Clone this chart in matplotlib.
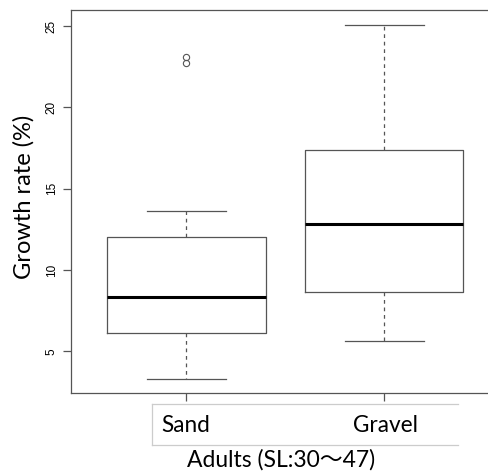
import matplotlib.pyplot as plt
from matplotlib.lines import Line2D

groups = ['Sand', 'Gravel']
q1 = [6.11, 8.63]
median = [8.36, 12.84]
q3 = [12.04, 17.37]
whisker_low = [3.28, 5.65]
whisker_high = [13.62, 25.06]
outliers = [[23.12, 22.75], []]
yticks = [5, 10, 15, 20, 25]

xlabel = 'Adults (SL:30〜47)'
ylabel = 'Growth rate (%)'

stats = []
for i in range(len(groups)):
    stats.append({'med': median[i], 'q1': q1[i], 'q3': q3[i],
                  'whislo': whisker_low[i], 'whishi': whisker_high[i],
                  'fliers': outliers[i], 'label': groups[i]})

fig = plt.figure(figsize=(4.89, 4.72), dpi=100)
W, H = 489, 472
# axes right edge lies outside the figure (image was cropped)
ax = fig.add_axes([71 / W, 1 - 393.3 / H, (499 - 71) / W, (393.3 - 10.3) / H])

grey = '#555555'
ax.bxp(stats, positions=[1, 2], widths=0.8, showfliers=True,
       boxprops=dict(color=grey, linewidth=0.9),
       whiskerprops=dict(color=grey, linewidth=0.9, linestyle=(0, (3, 3))),
       capprops=dict(color=grey, linewidth=0.9),
       medianprops=dict(color='black', linewidth=2.2, solid_capstyle='butt'),
       flierprops=dict(marker='o', markersize=4.5, markerfacecolor='none',
                       markeredgecolor=grey, markeredgewidth=0.8),
       capwidths=0.4)

ax.set_xlim(0.417, 2.58)
ax.set_ylim(2.42, 25.97)
ax.set_yticks(yticks)
ax.set_yticklabels([str(t) for t in yticks], rotation=90, va='center',
                   family='Liberation Sans', fontsize=8.5)
ax.set_xticks([1, 2])
ax.set_xticklabels(['', ''])
ax.tick_params(axis='both', length=5.5, width=0.9, color=grey, pad=4)
for s in ax.spines.values():
    s.set_color(grey)
    s.set_linewidth(0.9)

# y label
fig.text(24 / W, 1 - 197 / H, ylabel, rotation=90, ha='center', va='center',
         family=['Lato', 'DejaVu Sans'], fontsize=17)

# category label box (pasted text box, no right edge)
x0, x1, y0, y1 = 151.7 / W, 457.7 / W, 1 - 444.8 / H, 1 - 404.3 / H
for seg in ([x0, x1], [y1, y1]), ([x0, x1], [y0, y0]), ([x0, x0], [y0, y1]):
    fig.add_artist(Line2D(seg[0], seg[1], color='#cccccc', linewidth=0.9,
                          transform=fig.transFigure))
fig.text(161.7 / W, 1 - 432.3 / H, groups[0], ha='left', va='baseline',
         family=['Lato', 'DejaVu Sans'], fontsize=16.3)
fig.text(352.7 / W, 1 - 432.3 / H, groups[1], ha='left', va='baseline',
         family=['Lato', 'DejaVu Sans'], fontsize=16.3)

fig.text(281 / W, 1 - 466.7 / H, xlabel, ha='center', va='baseline',
         family=['Lato', 'Noto Sans CJK JP', 'DejaVu Sans'], fontsize=16.5)

fig.savefig('out.png', dpi=100)
